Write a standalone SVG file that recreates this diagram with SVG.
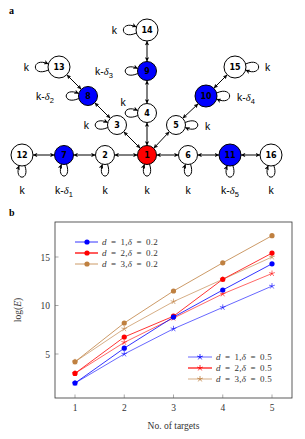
<svg xmlns="http://www.w3.org/2000/svg" xmlns:xlink="http://www.w3.org/1999/xlink" width="305" height="439" viewBox="0 0 305 439">
<style>
.node{stroke:#000;stroke-width:1}
.w{fill:#fff}.b{fill:#0000ff}.r{fill:#ff0000}
.num{font-family:"DejaVu Sans",sans-serif;font-weight:bold;font-size:8px;text-anchor:middle;fill:#000}
.lbl{font-family:"Liberation Sans",sans-serif;font-size:10.5px;fill:#000000}
.dl{font-family:"Liberation Serif",serif;font-style:italic}
.edge{stroke:#000;stroke-width:1;fill:none;marker-start:url(#ah);marker-end:url(#ah)}
.loop{stroke:#000;stroke-width:1;fill:none;marker-end:url(#ah)}
.panel{font-family:"Liberation Serif",serif;font-weight:bold;font-size:10px}
.tick{font-family:"Liberation Serif",serif;font-size:9.5px;fill:#333}
.leg{font-family:"Liberation Serif",serif;font-size:9px;fill:#333;word-spacing:1.6px;letter-spacing:0.3px}
.ser{fill:none;stroke-width:0.8}
</style>
<defs>
<marker id="ah" viewBox="0 0 10 10" refX="10" refY="5" markerWidth="4.5" markerHeight="4.5" orient="auto-start-reverse" markerUnits="userSpaceOnUse">
<path d="M0,0 L10,5 L0,10 L3,5 Z" fill="#000"/>
</marker>
<path id="star" d="M0,0L0,-3M0,0L-2.85,-0.93M0,0L-1.76,2.43M0,0L1.76,2.43M0,0L2.85,-0.93" stroke-width="0.8" fill="none"/>
</defs>
<text class="panel" x="9" y="14">a</text>
<text class="panel" x="9" y="216">b</text>
<g id="connectors">
<line class="edge" x1="137.5" y1="155" x2="114.5" y2="155"/>
<line class="edge" x1="95.5" y1="155" x2="73.5" y2="155"/>
<line class="edge" x1="54.5" y1="155" x2="33" y2="155"/>
<line class="edge" x1="156.5" y1="155" x2="178.5" y2="155"/>
<line class="edge" x1="197.5" y1="155" x2="219" y2="155"/>
<line class="edge" x1="241" y1="155" x2="260" y2="155"/>
<line class="edge" x1="147" y1="145.5" x2="147" y2="122.5"/>
<line class="edge" x1="147" y1="103.5" x2="147" y2="80.5"/>
<line class="edge" x1="147" y1="61.5" x2="147" y2="41"/>
<line class="edge" x1="140.3" y1="148.3" x2="123.7" y2="131.7"/>
<line class="edge" x1="110.3" y1="118.3" x2="94.7" y2="102.7"/>
<line class="edge" x1="81.3" y1="89.3" x2="66.8" y2="74.8"/>
<line class="edge" x1="153.7" y1="148.3" x2="169.3" y2="131.7"/>
<line class="edge" x1="182.7" y1="118.3" x2="198.2" y2="103.8"/>
<line class="edge" x1="213.8" y1="88.2" x2="227.2" y2="74.8"/>
<path class="loop" d="M149.5,164.2 C155,180 139,180 144.5,164.2"/>
<path class="loop" d="M107.5,164.2 C113,180 97,180 102.5,164.2"/>
<path class="loop" d="M66.5,164.2 C72,180 56,180 61.5,164.2"/>
<path class="loop" d="M24.8,165.6 C30.5,181 13.5,181 19.2,165.6"/>
<path class="loop" d="M190.5,164.2 C196,180 180,180 185.5,164.2"/>
<path class="loop" d="M232.8,165.6 C238.5,181 221.5,181 227.2,165.6"/>
<path class="loop" d="M273.8,165.6 C279.5,181 262.5,181 268.2,165.6"/>
<path class="loop" d="M137.8,115.5 C121,123 121,103 137.8,110.5"/>
<path class="loop" d="M107.8,127.5 C91,135 91,115 107.8,122.5"/>
<path class="loop" d="M78.8,98.5 C62,106 62,86 78.8,93.5"/>
<path class="loop" d="M137.8,73.5 C121,81 121,61 137.8,68.5"/>
<path class="loop" d="M136.4,33 C119,41 119,19 136.4,27"/>
<path class="loop" d="M48.4,70 C31,78 31,56 48.4,64"/>
<path class="loop" d="M185.2,122.5 C202,115 202,135 185.2,127.5"/>
<path class="loop" d="M216.6,93 C234,85 234,107 216.6,99"/>
<path class="loop" d="M245.6,64 C263,56 263,78 245.6,70"/>
</g>
<g id="n1"><circle class="node r" cx="147" cy="155" r="9.5"/><text class="num" x="147" y="158">1</text></g>
<g id="n2"><circle class="node w" cx="105" cy="155" r="9.5"/><text class="num" x="105" y="158">2</text></g>
<g id="n3"><circle class="node w" cx="117" cy="125" r="9.5"/><text class="num" x="117" y="128">3</text></g>
<g id="n4"><circle class="node w" cx="147" cy="113" r="9.5"/><text class="num" x="147" y="116">4</text></g>
<g id="n5"><circle class="node w" cx="176" cy="125" r="9.5"/><text class="num" x="176" y="128">5</text></g>
<g id="n6"><circle class="node w" cx="188" cy="155" r="9.5"/><text class="num" x="188" y="158">6</text></g>
<g id="n7"><circle class="node b" cx="64" cy="155" r="9.5"/><text class="num" x="64" y="158">7</text></g>
<g id="n8"><circle class="node b" cx="88" cy="96" r="9.5"/><text class="num" x="88" y="99">8</text></g>
<g id="n9"><circle class="node b" cx="147" cy="71" r="9.5"/><text class="num" x="147" y="74">9</text></g>
<g id="n10"><circle class="node b" cx="206" cy="96" r="11"/><text class="num" x="206" y="99">10</text></g>
<g id="n11"><circle class="node b" cx="230" cy="155" r="11"/><text class="num" x="230" y="158">11</text></g>
<g id="n12"><circle class="node w" cx="22" cy="155" r="11"/><text class="num" x="22" y="158">12</text></g>
<g id="n13"><circle class="node w" cx="59" cy="67" r="11"/><text class="num" x="59" y="70">13</text></g>
<g id="n14"><circle class="node w" cx="147" cy="30" r="11"/><text class="num" x="147" y="33">14</text></g>
<g id="n15"><circle class="node w" cx="235" cy="67" r="11"/><text class="num" x="235" y="70">15</text></g>
<g id="n16"><circle class="node w" cx="271" cy="155" r="11"/><text class="num" x="271" y="158">16</text></g>
<g id="loop-labels">
<text class="lbl" x="147" y="194" text-anchor="middle">k</text>
<text class="lbl" x="105" y="194" text-anchor="middle">k</text>
<text class="lbl" x="22" y="194" text-anchor="middle">k</text>
<text class="lbl" x="188" y="194" text-anchor="middle">k</text>
<text class="lbl" x="271" y="194" text-anchor="middle">k</text>
<text class="lbl" x="64" y="194" text-anchor="middle">k-<tspan class="dl">δ</tspan><tspan font-size="7.5" dy="2.5">1</tspan></text>
<text class="lbl" x="230" y="194" text-anchor="middle">k-<tspan class="dl">δ</tspan><tspan font-size="7.5" dy="2.5">5</tspan></text>
<text class="lbl" x="123" y="106" text-anchor="middle">k</text>
<text class="lbl" x="89" y="129" text-anchor="end">k</text>
<text class="lbl" x="117" y="34" text-anchor="end">k</text>
<text class="lbl" x="29" y="71" text-anchor="end">k</text>
<text class="lbl" x="95" y="75">k-<tspan class="dl">δ</tspan><tspan font-size="7.5" dy="2.5">3</tspan></text>
<text class="lbl" x="36" y="100">k-<tspan class="dl">δ</tspan><tspan font-size="7.5" dy="2.5">2</tspan></text>
<text class="lbl" x="205" y="130">k</text>
<text class="lbl" x="265" y="71">k</text>
<text class="lbl" x="237" y="101">k-<tspan class="dl">δ</tspan><tspan font-size="7.5" dy="2.5">4</tspan></text>
</g>
<g id="chart">
<rect x="55" y="222" width="237" height="176" fill="none" stroke="#333" stroke-width="0.8"/>
<g stroke="#555" stroke-width="0.5">
<line x1="75" y1="398" x2="75" y2="394.5"/><line x1="124.25" y1="398" x2="124.25" y2="394.5"/><line x1="173.5" y1="398" x2="173.5" y2="394.5"/><line x1="222.75" y1="398" x2="222.75" y2="394.5"/><line x1="272" y1="398" x2="272" y2="394.5"/>
<line x1="55" y1="354" x2="58.5" y2="354"/><line x1="55" y1="305.5" x2="58.5" y2="305.5"/><line x1="55" y1="257" x2="58.5" y2="257"/>
</g>
<g class="tick" text-anchor="middle">
<text x="75" y="411">1</text><text x="124.25" y="411">2</text><text x="173.5" y="411">3</text><text x="222.75" y="411">4</text><text x="272" y="411">5</text>
</g>
<g class="tick" text-anchor="end">
<text x="50" y="357.5">5</text><text x="50" y="309">10</text><text x="50" y="260.5">15</text>
</g>
<text class="tick" x="173.5" y="429" text-anchor="middle">No. of targets</text>
<text class="tick" transform="translate(21,310) rotate(-90)" text-anchor="middle">log(<tspan font-style="italic">E</tspan>)</text>
<g stroke="#0000ff" stroke-opacity="0.75">
<polyline class="ser" points="75,383.1 124.25,354 173.5,328.8 222.75,307.4 272,286.1"/>
<use href="#star" x="75" y="383.1"/><use href="#star" x="124.25" y="354"/><use href="#star" x="173.5" y="328.8"/><use href="#star" x="222.75" y="307.4"/><use href="#star" x="272" y="286.1"/>
</g>
<g stroke="#ff0000" stroke-opacity="0.75">
<polyline class="ser" points="75,373.4 124.25,342.4 173.5,318.1 222.75,293.9 272,273.5"/>
<use href="#star" x="75" y="373.4"/><use href="#star" x="124.25" y="342.4"/><use href="#star" x="173.5" y="318.1"/><use href="#star" x="222.75" y="293.9"/><use href="#star" x="272" y="273.5"/>
</g>
<g stroke="#bf8040" stroke-opacity="0.8">
<polyline class="ser" points="75,361.8 124.25,328.8 173.5,301.6 222.75,279.3 272,257"/>
<use href="#star" x="75" y="361.8"/><use href="#star" x="124.25" y="328.8"/><use href="#star" x="173.5" y="301.6"/><use href="#star" x="222.75" y="279.3"/><use href="#star" x="272" y="257"/>
</g>
<g fill="#bf8040">
<polyline class="ser" stroke="#bf8040" points="75,361.8 124.25,323 173.5,291 222.75,262.8 272,235.7"/>
<circle cx="75" cy="361.8" r="2.6"/><circle cx="124.25" cy="323" r="2.6"/><circle cx="173.5" cy="291" r="2.6"/><circle cx="222.75" cy="262.8" r="2.6"/><circle cx="272" cy="235.7" r="2.6"/>
</g>
<g fill="#ff0000">
<polyline class="ser" stroke="#ff0000" points="75,373.4 124.25,337 173.5,316.2 222.75,279.3 272,253.1"/>
<circle cx="75" cy="373.4" r="2.6"/><circle cx="124.25" cy="337" r="2.6"/><circle cx="173.5" cy="316.2" r="2.6"/><circle cx="222.75" cy="279.3" r="2.6"/><circle cx="272" cy="253.1" r="2.6"/>
</g>
<g fill="#0000ff">
<polyline class="ser" stroke="#0000ff" points="75,383.1 124.25,348.2 173.5,317.1 222.75,290 272,263.8"/>
<circle cx="75" cy="383.1" r="2.6"/><circle cx="124.25" cy="348.2" r="2.6"/><circle cx="173.5" cy="317.1" r="2.6"/><circle cx="222.75" cy="290" r="2.6"/><circle cx="272" cy="263.8" r="2.6"/>
</g>
<g id="legend1">
<line x1="75" y1="242" x2="98" y2="242" stroke="#0000ff" stroke-width="0.8"/><circle cx="87" cy="242" r="2.6" fill="#0000ff"/>
<line x1="75" y1="253" x2="98" y2="253" stroke="#ff9999" stroke-width="2"/><line x1="75" y1="253" x2="98" y2="253" stroke="#ff0000" stroke-width="0.8"/><circle cx="87" cy="253" r="2.6" fill="#ff0000"/>
<line x1="75" y1="264" x2="98" y2="264" stroke="#bf8040" stroke-width="0.8"/><circle cx="87" cy="264" r="2.6" fill="#bf8040"/>
<text class="leg" x="102" y="245"><tspan font-style="italic">d</tspan> = 1,<tspan font-style="italic">δ</tspan> = 0.2</text>
<text class="leg" x="102" y="256"><tspan font-style="italic">d</tspan> = 2,<tspan font-style="italic">δ</tspan> = 0.2</text>
<text class="leg" x="102" y="267"><tspan font-style="italic">d</tspan> = 3,<tspan font-style="italic">δ</tspan> = 0.2</text>
</g>
<g id="legend2">
<line x1="188" y1="357" x2="212" y2="357" stroke="#0000ff" stroke-opacity="0.75" stroke-width="0.8"/><use href="#star" x="200" y="357" stroke="#0000ff"/>
<line x1="188" y1="368" x2="212" y2="368" stroke="#ff9999" stroke-width="2"/><line x1="188" y1="368" x2="212" y2="368" stroke="#ff0000" stroke-opacity="0.75" stroke-width="0.8"/><use href="#star" x="200" y="368" stroke="#ff0000"/>
<line x1="188" y1="379" x2="212" y2="379" stroke="#bf8040" stroke-opacity="0.8" stroke-width="0.8"/><use href="#star" x="200" y="379" stroke="#bf8040"/>
<text class="leg" x="216" y="360"><tspan font-style="italic">d</tspan> = 1,<tspan font-style="italic">δ</tspan> = 0.5</text>
<text class="leg" x="216" y="371"><tspan font-style="italic">d</tspan> = 2,<tspan font-style="italic">δ</tspan> = 0.5</text>
<text class="leg" x="216" y="382"><tspan font-style="italic">d</tspan> = 3,<tspan font-style="italic">δ</tspan> = 0.5</text>
</g>
</g>
</svg>
